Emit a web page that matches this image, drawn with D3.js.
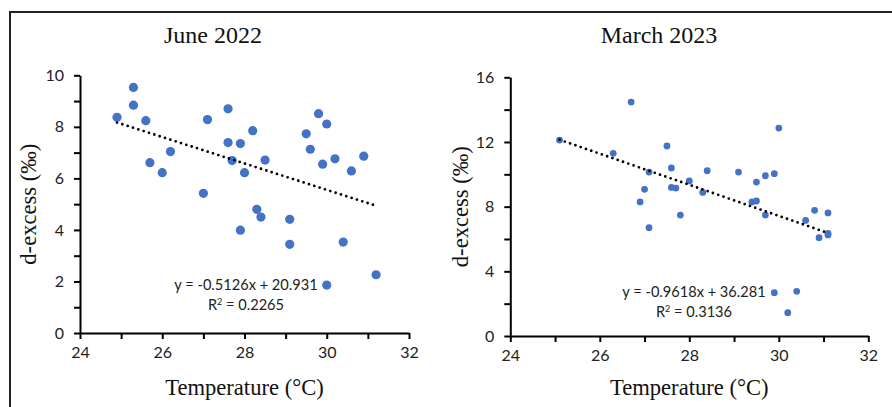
<!DOCTYPE html>
<html><head><meta charset="utf-8">
<script src="https://cdn.jsdelivr.net/npm/d3@7"></script>
<style>body{margin:0;background:#fff}svg{display:block}</style>
</head><body>
<svg id="c" width="892" height="407"></svg>
<script>
// June 2022 data
const juneTemp = [24.9,25.3,25.3,25.6,25.7,26.0,26.2,27.0,27.1,27.6,27.6,27.7,27.9,28.0,27.9,28.2,28.3,28.4,28.5,29.1,29.1,29.5,29.6,29.8,29.9,30.0,30.2,30.4,30.6,30.9,31.2,30.0];
const juneDex  = [8.37,9.53,8.84,8.24,6.61,6.22,7.04,5.42,8.28,8.70,7.39,6.69,7.35,6.22,3.99,7.85,4.80,4.50,6.71,4.41,3.44,7.73,7.13,8.51,6.55,8.11,6.76,3.53,6.29,6.86,2.26,1.86];
// March 2023 data
const marchTemp = [25.1,26.3,26.7,26.9,27.0,27.1,27.1,27.5,27.6,27.6,27.7,27.8,28.0,28.3,28.4,29.1,29.4,29.5,29.5,29.7,29.7,29.9,30.0,29.9,30.4,30.2,30.6,30.8,30.9,31.1,31.1,31.1];
const marchDex  = [12.12,11.30,14.47,8.29,9.07,10.14,6.70,11.75,10.39,9.19,9.15,7.48,9.59,8.88,10.22,10.14,8.29,8.35,9.52,9.91,7.48,10.04,12.86,2.68,2.76,1.44,7.15,7.77,6.08,7.61,6.35,6.25];
// Trendline coefficients
const juneFit = {slope:-0.5126, intercept:20.931, r2:"0.2265"};
const marchFit = {slope:-0.9618, intercept:36.281, r2:"0.3136"};
// Tick values
const xTicks = [24,25,26,27,28,29,30,31,32];
const xLabels = [24,26,28,30,32];
const juneYTicks = [0,1,2,3,4,5,6,7,8,9,10];
const juneYLabels = [0,2,4,6,8,10];
const marchYTicks = [0,2,4,6,8,10,12,14,16];
const marchYLabels = [0,4,8,12,16];
const titles = ["June 2022","March 2023"];

const svg = d3.select("#c");
// outer frame
svg.append("path").attr("d","M10,407 V12 H892").attr("fill","none").attr("stroke","#222").attr("stroke-width",2);

const panels = [
  {title:titles[0], xs:juneTemp, ys:juneDex, fit:juneFit, yTicks:juneYTicks, yLabels:juneYLabels, yMax:10,
   x0:80, x1:409, yb:333, yt:75.3, r:4.6, titleX:213, eqX:246, eqY:290, yLabX:28},
  {title:titles[1], xs:marchTemp, ys:marchDex, fit:marchFit, yTicks:marchYTicks, yLabels:marchYLabels, yMax:16,
   x0:510.3, x1:868.3, yb:336, yt:77.3, r:3.4, titleX:659, eqX:694, eqY:297, yLabX:460}
];

const tickFont = "Lato, 'Open Sans', sans-serif";

panels.forEach(p=>{
  const g = svg.append("g");
  const x = d3.scaleLinear().domain([24,32]).range([p.x0,p.x1]);
  const y = d3.scaleLinear().domain([0,p.yMax]).range([p.yb,p.yt]);

  const xa = d3.axisBottom(x).tickValues(xTicks).tickSize(6).tickSizeOuter(0).tickPadding(8)
    .tickFormat(d=>xLabels.includes(d)?d:"");
  const gx = g.append("g").attr("transform",`translate(0,${p.yb})`).call(xa);
  const ya = d3.axisLeft(y).tickValues(p.yTicks).tickSize(6).tickSizeOuter(0).tickPadding(10)
    .tickFormat(d=>p.yLabels.includes(d)?d:"");
  const gy = g.append("g").attr("transform",`translate(${p.x0},0)`).call(ya);
  [gx,gy].forEach(a=>{
    a.select(".domain").attr("stroke","#000").attr("stroke-width",2);
    a.selectAll(".tick line").attr("stroke","#000").attr("stroke-width",2);
    a.selectAll(".tick text").attr("font-family",tickFont).attr("font-size",16).attr("fill","#222");
  });

  // points
  g.append("g").selectAll("circle").data(p.xs.map((v,i)=>[v,p.ys[i]])).join("circle")
    .attr("cx",d=>x(d[0])).attr("cy",d=>y(d[1])).attr("r",p.r).attr("fill","#4472C4");

  // trendline
  const xmin = d3.min(p.xs), xmax = d3.max(p.xs);
  g.append("line")
    .attr("x1",x(xmin)).attr("y1",y(p.fit.slope*xmin+p.fit.intercept))
    .attr("x2",x(xmax)).attr("y2",y(p.fit.slope*xmax+p.fit.intercept))
    .attr("stroke","#000").attr("stroke-width",2.8).attr("stroke-linecap","round")
    .attr("stroke-dasharray","0 5.6");

  // equation
  g.append("text").attr("x",p.eqX).attr("y",p.eqY).attr("text-anchor","middle")
    .attr("font-family",tickFont).attr("font-size",14.6).attr("fill","#222")
    .text(`y = ${p.fit.slope}x + ${p.fit.intercept}`);
  const r2 = g.append("text").attr("x",p.eqX).attr("y",p.eqY+20).attr("text-anchor","middle")
    .attr("font-family",tickFont).attr("font-size",14.6).attr("fill","#222");
  r2.append("tspan").text("R");
  r2.append("tspan").attr("dy",-5).attr("font-size",9).text("2");
  r2.append("tspan").attr("dy",5).text(` = ${p.fit.r2}`);

  // title
  g.append("text").attr("x",p.titleX).attr("y",43).attr("text-anchor","middle")
    .attr("font-family","'Liberation Serif', 'Times New Roman', serif").attr("font-size",24).attr("fill","#111")
    .text(p.title);
  // x title
  g.append("text").attr("x",(p.x0+p.x1)/2).attr("y",395).attr("text-anchor","middle")
    .attr("font-family","'Liberation Serif', 'Times New Roman', serif").attr("font-size",22.6).attr("fill","#111")
    .text("Temperature (°C)");
  // y title
  g.append("text").attr("transform",`translate(${p.yLabX},${(p.yb+p.yt)/2}) rotate(-90)`)
    .attr("text-anchor","middle").attr("dy","0.35em")
    .attr("font-family","'Liberation Serif', 'Times New Roman', serif").attr("font-size",22.6).attr("fill","#111")
    .text("d-excess (‰)");
});
</script>
</body></html>
